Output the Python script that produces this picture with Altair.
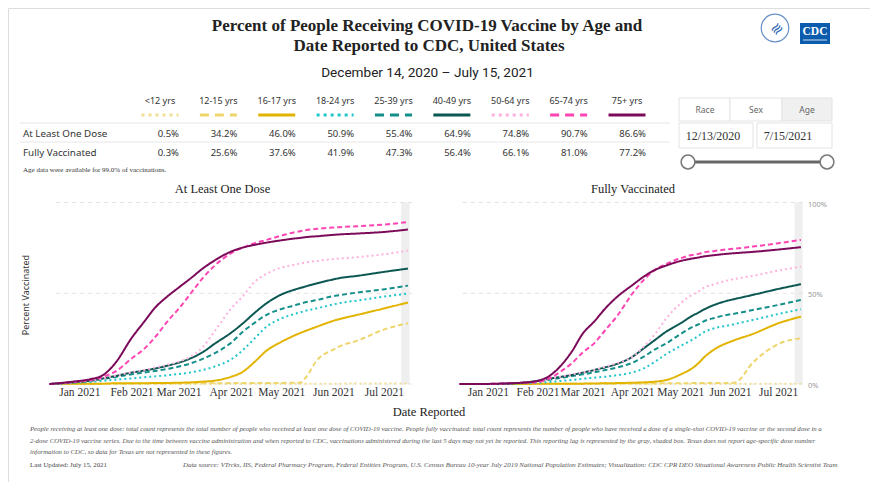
import altair as alt
import pandas as pd

# ---------------- categories and styles ----------------
groups = ["<12 yrs", "12-15 yrs", "16-17 yrs", "18-24 yrs", "25-39 yrs",
          "40-49 yrs", "50-64 yrs", "65-74 yrs", "75+ yrs"]
colors = ["#f1df94", "#eed56c", "#e2b400", "#20c6cc", "#158f89",
          "#0b5752", "#ffb0df", "#ff45b3", "#7c0a5a"]
line_dash = [[2, 3], [5, 3], [1, 0], [2, 3], [5, 3], [1, 0], [2, 3], [5, 3], [1, 0]]
sample_dash = [[3, 4], [9, 6], [1, 0], [3, 4], [9, 6], [1, 0], [3, 4], [9, 6], [1, 0]]

# ---------------- table values ----------------
rows = ["At Least One Dose", "Fully Vaccinated"]
pct_one_dose = [0.5, 34.2, 46.0, 50.9, 55.4, 64.9, 74.8, 90.7, 86.6]
pct_fully = [0.3, 25.6, 37.6, 41.9, 47.3, 56.4, 66.1, 81.0, 77.2]

# ---------------- time series ----------------
dates = ["2020-12-14", "2020-12-28", "2021-01-07", "2021-01-15", "2021-01-22",
         "2021-02-01", "2021-02-08", "2021-02-15", "2021-02-22", "2021-03-01",
         "2021-03-08", "2021-03-15", "2021-03-22", "2021-04-01", "2021-04-08",
         "2021-04-15", "2021-04-22", "2021-05-01", "2021-05-08", "2021-05-12",
         "2021-05-15", "2021-05-22", "2021-06-01", "2021-06-04", "2021-06-15",
         "2021-07-01", "2021-07-15"]

# At least one dose (%)
od_u12 = [0, 0, 0, 0, 0.1, 0.1, 0.1, 0.1, 0.1, 0.1, 0.1, 0.1, 0.2, 0.2, 0.2, 0.2, 0.2, 0.2, 0.2, 0.2, 0.2, 0.2, 0.2, 0.2, 0.3, 0.3, 0.3]
od_12_15 = [0, 0.1, 0.1, 0.2, 0.2, 0.2, 0.3, 0.3, 0.3, 0.3, 0.4, 0.4, 0.4, 0.5, 0.5, 0.5, 0.6, 0.6, 0.7, 0.7, 3.3, 13.2, 19.1, 20.6, 23.9, 30.1, 33.5]
od_16_17 = [0, 0.2, 0.2, 0.2, 0.4, 0.4, 0.4, 0.6, 0.6, 0.7, 0.9, 1.3, 1.8, 4.0, 6.8, 12.3, 18.4, 23.3, 26.5, 28.1, 29.2, 31.6, 34.9, 35.7, 38.1, 41.7, 44.9]
od_18_24 = [0, 0.6, 1.1, 1.8, 2.4, 3.1, 3.7, 4.2, 4.8, 5.5, 6.4, 7.7, 9.6, 13.6, 18.8, 25.2, 31.6, 36.2, 38.4, 39.5, 40.3, 41.7, 43.9, 44.5, 46.0, 48.2, 49.8]
od_25_39 = [0, 0.9, 1.7, 2.8, 3.9, 5.3, 6.3, 7.2, 8.3, 9.6, 11.4, 13.8, 16.9, 22.8, 28.9, 33.8, 38.1, 41.4, 43.2, 44.3, 45.0, 46.3, 48.5, 48.9, 50.4, 52.2, 54.2]
od_40_49 = [0, 0.9, 1.8, 3.1, 4.4, 6.3, 7.4, 8.6, 10.1, 11.8, 14.2, 17.5, 22.1, 28.3, 33.5, 39.3, 44.5, 49.4, 51.8, 52.9, 53.7, 55.5, 57.7, 58.3, 59.6, 61.8, 63.6]
od_50_64 = [0, 0.9, 1.8, 3.1, 4.6, 6.4, 7.7, 9.2, 10.5, 12.3, 15.1, 20.2, 28.9, 41.7, 48.5, 56.4, 60.7, 64.2, 65.6, 66.4, 66.9, 67.8, 68.9, 69.1, 69.9, 71.5, 73.5]
od_65_74 = [0, 1.1, 2.2, 4.0, 6.8, 14.2, 19.1, 26.1, 34.4, 41.7, 50.0, 58.3, 65.1, 72.1, 75.2, 77.6, 79.4, 81.8, 83.5, 84.2, 84.7, 85.5, 86.2, 86.4, 86.9, 87.9, 89.2]
od_75p = [0, 1.3, 2.6, 5.0, 11.4, 25.6, 34.0, 42.3, 48.2, 53.3, 58.3, 63.6, 68.0, 73.0, 75.2, 76.7, 77.9, 79.2, 80.1, 80.5, 80.9, 81.4, 82.2, 82.4, 82.9, 83.8, 85.1]

# Fully vaccinated (%)
fv_u12 = [0, 0, 0, 0, 0, 0, 0, 0, 0.1, 0.1, 0.1, 0.1, 0.1, 0.1, 0.1, 0.1, 0.1, 0.1, 0.1, 0.1, 0.1, 0.1, 0.2, 0.2, 0.2, 0.2, 0.2]
fv_12_15 = [0, 0, 0, 0, 0, 0.1, 0.1, 0.1, 0.1, 0.1, 0.2, 0.2, 0.2, 0.3, 0.3, 0.3, 0.4, 0.4, 0.5, 0.5, 0.5, 0.5, 0.6, 0.8, 11.8, 22.1, 25.2]
fv_16_17 = [0, 0, 0, 0, 0, 0.1, 0.1, 0.1, 0.1, 0.2, 0.3, 0.4, 0.5, 0.7, 0.9, 1.3, 2.2, 5.3, 8.6, 11.4, 14.2, 19.1, 23.3, 24.3, 27.6, 33.5, 37.1]
fv_18_24 = [0, 0, 0, 0.2, 0.4, 0.7, 1.1, 1.7, 2.2, 2.9, 3.5, 4.0, 4.8, 6.4, 8.6, 12.3, 16.5, 21.0, 24.3, 26.5, 28.3, 30.7, 32.5, 33.1, 35.3, 38.6, 41.2]
fv_25_39 = [0, 0, 0, 0.3, 0.6, 1.5, 2.4, 3.3, 4.4, 5.3, 6.4, 7.7, 9.0, 11.8, 15.1, 19.1, 22.4, 27.6, 31.3, 32.9, 34.4, 36.4, 38.4, 38.8, 40.8, 43.6, 46.3]
fv_40_49 = [0, 0, 0, 0.4, 0.7, 1.8, 2.9, 3.9, 5.0, 6.3, 7.7, 9.2, 11.0, 15.1, 19.7, 24.3, 28.9, 33.5, 37.5, 39.3, 40.8, 43.6, 46.3, 46.9, 49.1, 52.4, 55.0]
fv_50_64 = [0, 0, 0, 0.4, 0.7, 1.7, 2.9, 4.0, 5.3, 6.4, 7.7, 9.6, 11.4, 15.1, 20.6, 27.6, 36.2, 44.5, 49.1, 50.9, 52.8, 55.0, 57.4, 57.9, 59.6, 62.5, 64.7]
fv_65_74 = [0, 0, 0.2, 0.4, 0.7, 1.1, 3.1, 6.8, 11.4, 17.5, 22.4, 29.8, 37.1, 50.0, 57.4, 62.9, 66.2, 69.3, 71.1, 71.7, 72.4, 73.3, 74.4, 74.6, 75.7, 77.6, 79.4]
fv_75p = [0, 0, 0.2, 0.4, 0.7, 1.8, 4.4, 9.9, 17.8, 27.9, 34.4, 41.7, 47.8, 54.6, 59.2, 62.9, 65.3, 67.8, 69.1, 69.7, 70.2, 71.0, 71.9, 72.1, 72.8, 74.1, 75.4]

month_ticks = ["2021-01-01", "2021-02-01", "2021-03-01", "2021-04-01",
               "2021-05-01", "2021-06-01", "2021-07-01"]
month_labels = ["Jan 2021", "Feb 2021", "Mar 2021", "Apr 2021",
                "May 2021", "Jun 2021", "Jul 2021"]
pct_ticks = [0, 50, 100]
pct_labels = ["0%", "50%", "100%"]

footer_lines = [
    "People receiving at least one dose: total count represents the total number of people who received at least one dose of COVID-19 vaccine. People fully vaccinated: total count represents the number of people who have received a dose of a single-shot COVID-19 vaccine or the second dose in a",
    "2-dose COVID-19 vaccine series.  Due to the time between vaccine administration and when reported to CDC, vaccinations administered during the last 5 days may not yet be reported. This reporting lag is represented by the gray, shaded box. Texas does not report age-specific dose number",
    "information to CDC, so data for Texas are not represented in these figures.",
]
source_text = "Data source: VTrcks, IIS, Federal Pharmacy Program, Federal Entities Program, U.S. Census Bureau 10-year July 2019 National Population Estimates; Visualization: CDC CPR DEO Situational Awareness Public Health Scientist Team"

# ---------------- helpers ----------------
W, H = 862, 474
SERIF = "Liberation Serif"
SANS = "Noto Sans"


def ms(s):
    return int(pd.Timestamp(s).value // 10**6)


def long_df(series):
    recs = []
    for g, vals in zip(groups, series):
        for d, v in zip(dates, vals):
            recs.append({"date": d, "value": v, "group": g})
    return pd.DataFrame(recs)


one_dose_df = long_df([od_u12, od_12_15, od_16_17, od_18_24, od_25_39,
                       od_40_49, od_50_64, od_65_74, od_75p])
fully_df = long_df([fv_u12, fv_12_15, fv_16_17, fv_18_24, fv_25_39,
                    fv_40_49, fv_50_64, fv_65_74, fv_75p])

# ---------------- decoration layer (pixel coordinates) ----------------
pxs = alt.Scale(domain=[0, W], range=[0, W], nice=False, zero=False)
pys = alt.Scale(domain=[0, H], range=[0, H], nice=False, zero=False)


def PX(f="x"):
    return alt.X(f"{f}:Q", scale=pxs, axis=None)


def PY(f="y"):
    return alt.Y(f"{f}:Q", scale=pys, axis=None)


def text_layer(df, **kw):
    base = dict(baseline="middle")
    base.update(kw)
    return alt.Chart(df).mark_text(**base).encode(x=PX(), y=PY(), text="text:N")


boxes = pd.DataFrame([
    {"x": 671, "x2": 722, "y": 90, "y2": 113, "fill": "#ffffff"},
    {"x": 722, "x2": 774, "y": 90, "y2": 113, "fill": "#ffffff"},
    {"x": 774, "x2": 824, "y": 90, "y2": 113, "fill": "#f0f0f0"},
    {"x": 671, "x2": 745, "y": 115, "y2": 140, "fill": "#ffffff"},
    {"x": 749, "x2": 824, "y": 115, "y2": 140, "fill": "#ffffff"},
])
box_layer = alt.Chart(boxes).mark_rect(stroke="#e3e3e3", strokeWidth=1).encode(
    x=PX("x"), x2="x2:Q", y=PY("y"), y2="y2:Q", fill=alt.Fill("fill:N", scale=None))

cdc_box = alt.Chart(pd.DataFrame([{"x": 792, "x2": 822, "y": 15, "y2": 36}])).mark_rect(
    color="#0b5cad").encode(x=PX("x"), x2="x2:Q", y=PY("y"), y2="y2:Q")
cdc_line = alt.Chart(pd.DataFrame([{"x": 795, "x2": 819, "y": 32}])).mark_rule(
    color="#ffffff", strokeWidth=1, opacity=0.8).encode(x=PX("x"), x2="x2:Q", y=PY("y"))
hhs_ring = alt.Chart(pd.DataFrame([{"x": 767, "y": 20}])).mark_point(
    shape="circle", filled=False, size=760, strokeWidth=1.2, color="#2a66b3").encode(x=PX(), y=PY())
hhs_eagle = alt.Chart(pd.DataFrame([{"x": 769, "y": 21, "text": "≋"}])).mark_text(
    font=SANS, fontSize=15, color="#2a66b3", angle=315, baseline="middle").encode(x=PX(), y=PY(), text="text:N")

sep_rules = alt.Chart(pd.DataFrame([
    {"x": 12, "x2": 662, "y": 115}, {"x": 12, "x2": 662, "y": 134}])).mark_rule(
    color="#e6e6e6", strokeWidth=1).encode(x=PX("x"), x2="x2:Q", y=PY("y"))

slider_line = alt.Chart(pd.DataFrame([{"x": 680, "x2": 819, "y": 154}])).mark_rule(
    color="#666666", strokeWidth=3).encode(x=PX("x"), x2="x2:Q", y=PY("y"))
slider_knobs = alt.Chart(pd.DataFrame([{"x": 680, "y": 154}, {"x": 819, "y": 154}])).mark_point(
    shape="circle", filled=True, fill="#ffffff", stroke="#777777", strokeWidth=1.5,
    size=190, opacity=1).encode(x=PX(), y=PY())

title_t = text_layer(pd.DataFrame([
    {"x": 419, "y": 18, "text": "Percent of People Receiving COVID-19 Vaccine by Age and"},
    {"x": 421, "y": 38, "text": "Date Reported to CDC, United States"}]),
    font=SERIF, fontSize=17, fontWeight="bold", color="#222222", align="center")
subtitle_t = text_layer(pd.DataFrame([
    {"x": 419.5, "y": 65, "text": "December 14, 2020 \u2013 July 15, 2021"}]),
    font="Roboto", fontSize=13.6, color="#222222", align="center")
note_t = text_layer(pd.DataFrame([
    {"x": 15, "y": 162, "text": "Age data were available for 99.0% of vaccinations."}]),
    font=SERIF, fontSize=7, color="#333333", align="left")
panel_titles = text_layer(pd.DataFrame([
    {"x": 214.5, "y": 181, "text": "At Least One Dose"},
    {"x": 625, "y": 181, "text": "Fully Vaccinated"}]),
    font=SERIF, fontSize=12.5, color="#222222", align="center")
xtitle_t = text_layer(pd.DataFrame([{"x": 421, "y": 403.5, "text": "Date Reported"}]),
                      font=SERIF, fontSize=12.5, color="#222222", align="center")
ytitle_t = text_layer(pd.DataFrame([{"x": 18, "y": 287, "text": "Percent Vaccinated"}]),
                      font=SANS, fontSize=9, color="#333333", align="center", angle=270)
button_t = text_layer(pd.DataFrame([
    {"x": 697, "y": 102, "text": "Race"}, {"x": 748, "y": 102, "text": "Sex"},
    {"x": 799, "y": 102, "text": "Age"}]),
    font=SANS, fontSize=8.5, color="#666666", align="center")
date_t = text_layer(pd.DataFrame([
    {"x": 705, "y": 127.5, "text": "12/13/2020"}, {"x": 780, "y": 127.5, "text": "7/15/2021"}]),
    font=SERIF, fontSize=12, color="#333333", align="center")
cdc_t = text_layer(pd.DataFrame([{"x": 807, "y": 24, "text": "CDC"}]),
                   font=SERIF, fontSize=11.5, fontWeight="bold", color="#ffffff", align="center")
footer_t = text_layer(pd.DataFrame([
    {"x": 22, "y": 421, "text": footer_lines[0]},
    {"x": 22, "y": 433, "text": footer_lines[1]},
    {"x": 22, "y": 444, "text": footer_lines[2]}]),
    font=SERIF, fontSize=6.75, fontStyle="italic", color="#555555", align="left")
source_t = text_layer(pd.DataFrame([{"x": 175, "y": 457, "text": source_text}]),
                      font=SERIF, fontSize=6.9, fontStyle="italic", color="#555555", align="left")
updated_t = text_layer(pd.DataFrame([{"x": 22, "y": 457, "text": "Last Updated: July 15, 2021"}]),
                       font=SERIF, fontSize=6.8, color="#444444", align="left")

decor = alt.layer(box_layer, cdc_box, cdc_line, hhs_ring, hhs_eagle, sep_rules,
                  slider_line, slider_knobs, title_t, subtitle_t, note_t, panel_titles,
                  xtitle_t, ytitle_t, button_t, date_t, cdc_t, footer_t, source_t, updated_t)

# ---------------- legend / table layer ----------------
tx = alt.Scale(type="point", domain=groups, range=[152, 619], padding=0)
ty = alt.Scale(type="point", domain=rows, range=[126, 145], padding=0)

hdr_df = pd.DataFrame({"group": groups})
val_recs = []
for r, vals in zip(rows, [pct_one_dose, pct_fully]):
    for g, v in zip(groups, vals):
        val_recs.append({"group": g, "row": r, "label": f"{v:.1f}%"})
val_df = pd.DataFrame(val_recs)
row_df = pd.DataFrame({"row": rows})

headers = alt.Chart(hdr_df).mark_text(font=SANS, fontSize=9, color="#333333",
                                      baseline="middle").encode(
    x=alt.X("group:N", scale=tx, axis=None), y=alt.value(93), text="group:N")
samples = alt.Chart(hdr_df).mark_rule(strokeWidth=3, xOffset=-18.5, x2Offset=18.5).encode(
    x=alt.X("group:N", scale=tx, axis=None), x2=alt.X2("group"), y=alt.value(107),
    color=alt.Color("group:N", scale=alt.Scale(domain=groups, range=colors), legend=None),
    strokeDash=alt.StrokeDash("group:N", scale=alt.Scale(domain=groups, range=sample_dash), legend=None))
values_t = alt.Chart(val_df).mark_text(font=SANS, fontSize=9.5, color="#333333",
                                       align="right", xOffset=19, baseline="middle").encode(
    x=alt.X("group:N", scale=tx, axis=None), y=alt.Y("row:N", scale=ty, axis=None), text="label:N")
row_t = alt.Chart(row_df).mark_text(font=SANS, fontSize=9.8, color="#333333",
                                    align="left", baseline="middle").encode(
    x=alt.value(15), y=alt.Y("row:N", scale=ty, axis=None), text="row:N")

table = alt.layer(headers, samples, values_t, row_t)

# ---------------- chart panels ----------------
ticks_df = pd.DataFrame({"date": month_ticks, "label": month_labels})
pct_df = pd.DataFrame({"value": pct_ticks, "label": pct_labels})


def panel(df, x_range, grid_start, with_pct):
    xs = alt.Scale(domain=[ms("2020-12-14"), ms("2021-07-18")], range=x_range, nice=False)
    ys = alt.Scale(domain=[0, 100], range=[376, 194.5], nice=False, zero=False)
    X = alt.X("date:T", scale=xs, axis=None)
    Y = alt.Y("value:Q", scale=ys, axis=None)
    shade = alt.Chart(pd.DataFrame([{"date": "2021-07-11", "end": "2021-07-16",
                                     "value": 0, "top": 100}])).mark_rect(
        color="#efefef").encode(x=X, x2="end:T", y=Y, y2="top:Q")
    grid = alt.Chart(pd.DataFrame({"date": [grid_start] * 3, "end": ["2021-07-18"] * 3,
                                   "value": pct_ticks})).mark_rule(
        color="#e2e2e2", strokeDash=[4, 4], strokeWidth=1).encode(x=X, x2="end:T", y=Y)
    lines = alt.Chart(df).mark_line(strokeWidth=2, interpolate="monotone").encode(
        x=X, y=Y,
        color=alt.Color("group:N", scale=alt.Scale(domain=groups, range=colors), legend=None),
        strokeDash=alt.StrokeDash("group:N", scale=alt.Scale(domain=groups, range=line_dash),
                                  legend=None))
    mlabels = alt.Chart(ticks_df).mark_text(font=SERIF, fontSize=11.5, color="#333333",
                                            baseline="middle").encode(
        x=X, y=alt.value(385), text="label:N")
    parts = [shade, grid, lines, mlabels]
    if with_pct:
        parts.append(alt.Chart(pct_df).mark_text(font=SANS, fontSize=7.5, color="#999999",
                                                 align="left", baseline="middle", dy=2).encode(
            x=alt.value(800), y=Y, text="label:N"))
    return alt.layer(*parts)


left = panel(one_dose_df, [41.5, 405], "2020-12-18", False)
right = panel(fully_df, [451.5, 797.8], "2020-12-16", True)

chart = alt.layer(decor, table, left, right).resolve_scale(
    x="independent", y="independent", color="independent", strokeDash="independent"
).properties(
    width=W, height=H, padding=0, autosize=alt.AutoSizeParams(type="none")
).configure_view(stroke=None).configure(background="white")

chart.save("out.html", embed_options={"renderer": "svg", "actions": False})
